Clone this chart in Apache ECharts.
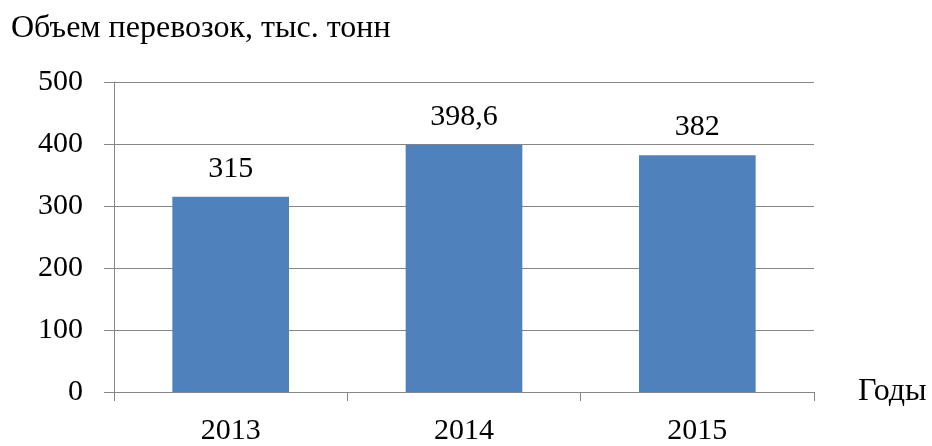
<!DOCTYPE html>
<html>
<head>
<meta charset="utf-8">
<script src="https://cdn.jsdelivr.net/npm/echarts@6/dist/echarts.min.js"></script>
<style>
  html, body { margin: 0; padding: 0; background: #fff; }
  #chart { width: 932px; height: 446px; }
</style>
</head>
<body>
<div id="chart"></div>
<script>
// данные диаграммы
const years = ["2013", "2014", "2015"];
const volumes = [315, 398.6, 382];
const volumeLabels = ["315", "398,6", "382"];

const font = "'Liberation Serif', 'DejaVu Serif', serif";
const axisGray = "#868686";

const chart = echarts.init(document.getElementById("chart"));

const options = {
  animation: false,
  title: {
    text: "Объем перевозок, тыс. тонн",
    left: 6,
    top: 8,
    textStyle: { fontFamily: font, fontSize: 32, fontWeight: "normal", color: "#000" },
  },
  grid: { left: 114, right: 118, top: 82, bottom: 49 },
  xAxis: {
    type: "category",
    data: years,
    name: "Годы",
    nameLocation: "end",
    nameGap: 44,
    nameTextStyle: { fontFamily: font, fontSize: 32, color: "#000", verticalAlign: "middle", padding: [0, 0, 8, 0] },
    axisLine: { lineStyle: { color: axisGray, width: 1 } },
    axisTick: { show: true, length: 9, interval: 0, lineStyle: { color: axisGray } },
    axisLabel: { fontFamily: font, fontSize: 30, color: "#000", margin: 24 },
  },
  yAxis: {
    type: "value",
    min: 0,
    max: 500,
    interval: 100,
    axisLine: { show: true, lineStyle: { color: axisGray, width: 1 } },
    axisTick: { show: true, length: 10, lineStyle: { color: axisGray } },
    axisLabel: { fontFamily: font, fontSize: 30, color: "#000", margin: 31 },
    splitLine: { lineStyle: { color: axisGray, width: 1 } },
  },
  series: [
    {
      type: "bar",
      data: volumes,
      barWidth: "50%",
      itemStyle: { color: "#4F81BD" },
      label: {
        show: true,
        position: "top",
        distance: 13,
        fontFamily: font,
        fontSize: 30,
        color: "#000",
        formatter: (p) => volumeLabels[p.dataIndex],
      },
    },
  ],
};

chart.setOption(options);
</script>
</body>
</html>
